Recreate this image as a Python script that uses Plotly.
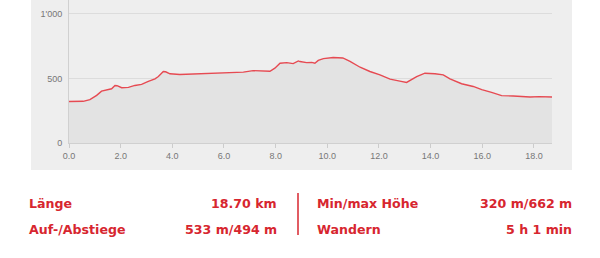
import plotly.graph_objects as go

# Elevation profile (km, m)
distance_km = [0.0, 0.3, 0.55, 0.81, 1.07, 1.26, 1.46, 1.65, 1.78, 1.86, 2.04, 2.3, 2.55, 2.81, 3.07, 3.33,
               3.46, 3.65, 3.74, 3.91, 4.29, 5.07, 6.04, 6.75, 7.13, 7.78, 7.97, 8.17, 8.43, 8.68, 8.88,
               8.94, 9.2, 9.4, 9.52, 9.65, 9.85, 10.23, 10.6, 10.88, 11.27, 11.65, 12.04, 12.43, 12.81,
               13.07, 13.46, 13.78, 14.17, 14.49, 14.75, 15.2, 15.65, 15.98, 16.36, 16.75, 17.2, 17.85,
               18.2, 18.7]
elevation_m = [322, 320, 323, 336, 369, 402, 413, 420, 446, 444, 428, 431, 446, 454, 477, 497,
               515, 554, 552, 536, 531, 536, 541, 549, 561, 556, 580, 618, 623, 615, 636,
               631, 623, 625, 618, 640, 654, 662, 659, 633, 587, 554, 528, 495, 479,
               469, 515, 541, 536, 528, 497, 459, 438, 413, 392, 367, 364, 356,
               359, 356]

y_tick_vals = [0, 500, 1000]
y_tick_text = ["0", "500", "1'000"]
x_tick_vals = [0, 2, 4, 6, 8, 10, 12, 14, 16, 18]
x_tick_text = ["0.0", "2.0", "4.0", "6.0", "8.0", "10.0", "12.0", "14.0", "16.0", "18.0"]

stat_labels_left = ["Länge", "Auf-/Abstiege"]
stat_values_left = ["18.70 km", "533 m/494 m"]
stat_labels_right = ["Min/max Höhe", "Wandern"]
stat_values_right = ["320 m/662 m", "5 h 1 min"]

W, H = 600, 258
RED = "#d7262f"

def px(x):
    return x / W

def py(y):
    return 1 - y / H

fig = go.Figure()
fig.add_trace(go.Scatter(
    x=distance_km, y=elevation_m, mode="lines",
    line=dict(color="#e64a52", width=1.4),
    fill="tozeroy", fillcolor="#e3e3e3",
    hoverinfo="skip", showlegend=False,
))

fig.update_layout(
    width=W, height=H,
    margin=dict(l=0, r=0, t=0, b=0, autoexpand=False),
    paper_bgcolor="white",
    plot_bgcolor="rgba(0,0,0,0)",
    xaxis=dict(
        domain=[px(69), px(552)], range=[0, 18.7], automargin=False,
        tickvals=x_tick_vals, ticktext=x_tick_text,
        ticks="outside", ticklen=4, tickcolor="#cccccc",
        showgrid=False, zeroline=False,
        showline=True, linecolor="#d0d0d0", linewidth=1,
        tickfont=dict(family="Liberation Sans, Arial", size=9, color="#777777"),
    ),
    yaxis=dict(
        domain=[py(143), 1], range=[0, 1108], automargin=False,
        tickvals=y_tick_vals, ticktext=y_tick_text,
        showgrid=True, gridcolor="#dcdcdc", gridwidth=1,
        zeroline=False, showline=True, linecolor="#d0d0d0", linewidth=1,
        ticks="", ticklabelstandoff=4,
        tickfont=dict(family="Liberation Sans, Arial", size=9, color="#777777"),
    ),
    shapes=[
        dict(type="rect", xref="paper", yref="paper",
             x0=px(31), x1=px(572), y0=py(170), y1=1,
             fillcolor="#eeeeee", line=dict(width=0), layer="below"),
        dict(type="line", xref="paper", yref="paper",
             x0=px(298), x1=px(298), y0=py(193), y1=py(235),
             line=dict(color=RED, width=1.5)),
    ],
)

font = dict(family="DejaVu Sans", size=12.6, color=RED)
rows_y = [203, 229]
ann = []
for i, yy in enumerate(rows_y):
    ann.append(dict(x=px(27), y=py(yy), text="<b>%s</b>" % stat_labels_left[i], xanchor="left"))
    ann.append(dict(x=px(279), y=py(yy), text="<b>%s</b>" % stat_values_left[i], xanchor="right"))
    ann.append(dict(x=px(315), y=py(yy), text="<b>%s</b>" % stat_labels_right[i], xanchor="left"))
    ann.append(dict(x=px(574), y=py(yy), text="<b>%s</b>" % stat_values_right[i], xanchor="right"))
for a in ann:
    a.update(xref="paper", yref="paper", yanchor="middle", showarrow=False, font=font)
fig.update_layout(annotations=ann)

fig.write_html("out.html")
